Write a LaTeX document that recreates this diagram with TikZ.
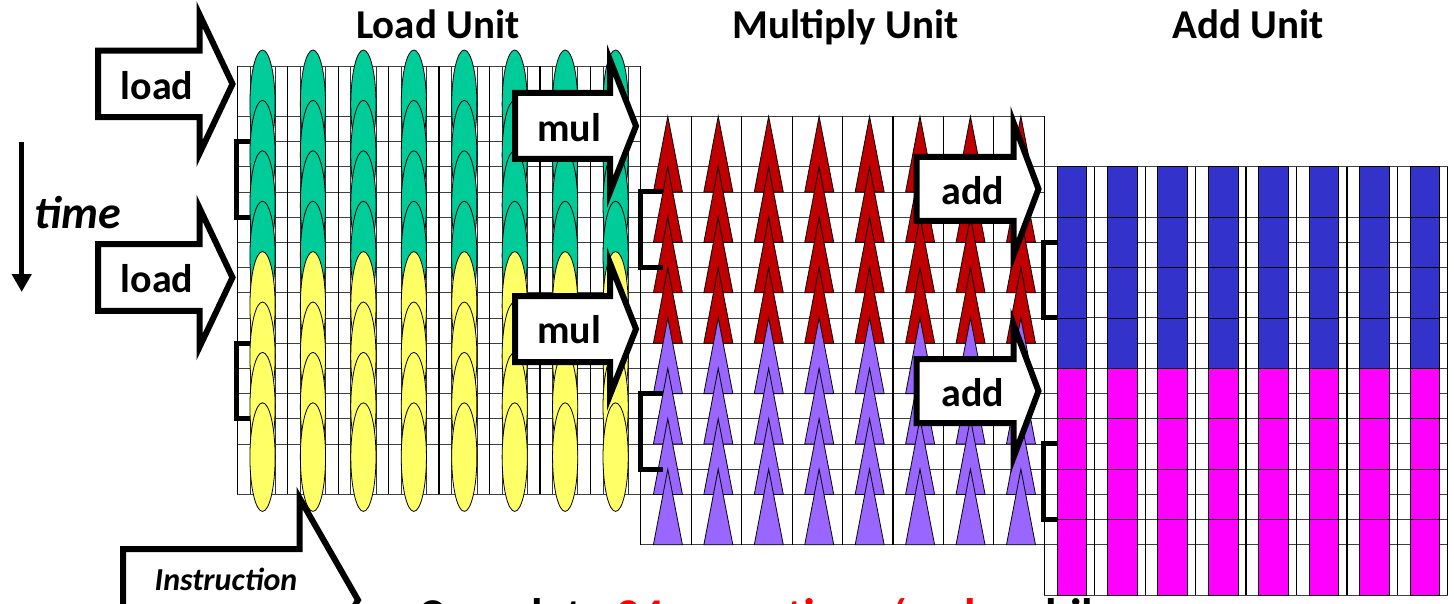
\documentclass[tikz,border=0pt]{standalone}
\usepackage{fontspec}
\setmainfont{Carlito}
\usetikzlibrary{calc}
\usetikzlibrary{arrows.meta}

\definecolor{loadgreen}{RGB}{0,204,153}
\definecolor{loadyellow}{RGB}{255,255,102}
\definecolor{mulred}{RGB}{192,0,0}
\definecolor{mulpurple}{RGB}{153,102,255}
\definecolor{addblue}{RGB}{51,51,204}
\definecolor{addmagenta}{RGB}{255,0,255}

\begin{document}
\begin{tikzpicture}[%
  >={Triangle[width=19pt,length=18pt]},
  x=1pt, y=-1pt,
  cell/.style={black!75, line width=0.9pt},
  subcell/.style={black!80, line width=0.7pt},
  lane/.style={black, line width=1.2pt},
  elem/.style={draw=black, line width=0.8pt},
  blockarrow/.style={draw=black, fill=white, line width=6pt},
  bracketline/.style={line width=5pt},
  oplabel/.style={font=\fontsize{40}{48}\selectfont\bfseries, anchor=base, inner sep=0pt},
  unittitle/.style={font=\fontsize{41}{48}\selectfont\bfseries, anchor=base, inner sep=0pt}
]

  \def\lanew{50.44}
  \def\rowh{25.2}

  \useasboundingbox (0,0) rectangle (1454,604);
  \clip (0,0) rectangle (1454,604);

  % load unit grid
  \foreach \c in {0,...,32}
    \draw[subcell] ({237.3+\c*\lanew/4},66) -- ++(0,{17*\rowh});

  \foreach \gx/\gy in {237.3/66, 640.8/116.4, 1044.3/166.7}{
    \foreach \r in {0,2,3,4,5,6,7,8,9,10,11,12,13,14,15,17}
      \draw[cell] (\gx,{\gy+\r*\rowh}) -- ++({8*\lanew},0);
    \foreach \c in {0,...,8}
      \draw[lane] ({\gx+\c*\lanew},\gy) -- ++(0,{17*\rowh});
  }

  \foreach \k in {0,...,7}{
    \ifnum\k<4 \def\elcol{loadgreen}\else\def\elcol{loadyellow}\fi
    \foreach \l in {0,...,7}
      \draw[elem, fill=\elcol] ({237.3+(\l+0.5)*\lanew},{104.3+2*\k*\rowh})
        ellipse [x radius=12.6pt, y radius=54.3pt];
  }

  % multiply unit
  \foreach \k in {0,...,7}{
    \ifnum\k<4 \def\tricol{mulred}\else\def\tricol{mulpurple}\fi
    \foreach \l in {0,...,7}
      \draw[elem, fill=\tricol] ({640.8+(\l+0.535)*\lanew},{116.4+2*\k*\rowh})
        -- ({640.8+(\l+0.825)*\lanew},{116.4+(2*\k+3)*\rowh})
        -- ({640.8+(\l+0.25)*\lanew},{116.4+(2*\k+3)*\rowh}) -- cycle;
  }

  % add unit
  \foreach \k in {0,...,7}{
    \ifnum\k<4 \def\barcol{addblue}\else\def\barcol{addmagenta}\fi
    \ifnum\k=7 \def\barh{3}\else\def\barh{2}\fi
    \foreach \l in {0,...,7}
      \draw[elem, fill=\barcol] ({1044.3+(\l+0.25)*\lanew},{166.7+2*\k*\rowh})
        rectangle ++({0.59*\lanew},{\barh*\rowh});
  }

  % instruction arrows
  \foreach \lx/\hx/\tx/\cy/\hb/\hh in {98/199.5/232.5/84/33.25/69.5,
      98/199.5/232.5/277.5/33.25/69.5,
      515/610/636/126/33/66, 515/610/636/329/33/66,
      916.5/1013.5/1038.5/189/32/66.5, 916.5/1013.5/1038.5/391/32/66.5,
      123/299.5/358/600/51/102}
    \draw[blockarrow] (\lx,{\cy-\hb}) -- (\hx,{\cy-\hb}) -- (\hx,{\cy-\hh})
      -- (\tx,\cy) -- (\hx,{\cy+\hh}) -- (\hx,{\cy+\hb}) -- (\lx,{\cy+\hb}) -- cycle;

  % brackets
  \foreach \bx/\ex/\gy in {236/250/66, 640/663/116.4, 1043.3/1057/166.7}{
    \draw[bracketline] (\ex,{\gy+3*\rowh}) -- (\bx,{\gy+3*\rowh})
      -- (\bx,{\gy+6*\rowh}) -- (\ex,{\gy+6*\rowh});
    \draw[bracketline] (\ex,{\gy+11*\rowh}) -- (\bx,{\gy+11*\rowh})
      -- (\bx,{\gy+14*\rowh}) -- (\ex,{\gy+14*\rowh});
  }

  \node[unittitle] (loadunit) at (437.7,38.3) {Load Unit};
  \node[unittitle] (mulunit) at (845.5,38.3) {Multiply Unit};
  \node[unittitle] (addunit) at (1248,38.3) {Add Unit};

  \node[oplabel] (loadA) at (157,100) {load};
  \node[oplabel] (loadB) at (157,292.7) {load};
  \node[oplabel] (mulA) at (569,142) {mul};
  \node[oplabel] (mulB) at (569,343.3) {mul};
  \node[oplabel] (addA) at (973,205) {add};
  \node[oplabel] (addB) at (973,406.7) {add};

  \coordinate (timestart) at (21.7,142);
  \coordinate (timeend) at (21.7,292);
  \draw[->, line width=4.5pt] (timestart) -- (timeend);
  \node[font=\fontsize{46}{52}\selectfont\bfseries\itshape, anchor=base, inner sep=0pt]
    (time) at (77.5,228.3) {time};

  \node[font=\fontsize{32}{38}\selectfont\bfseries\itshape, anchor=base, inner sep=0pt]
    (instr) at (226,590) {Instruction};
  \node[font=\fontsize{47}{56}\selectfont\bfseries, anchor=base west, inner sep=0pt]
    (summary) at (418,631) {Complete \textcolor{red}{24 operations/cycle} while};

\end{tikzpicture}
\end{document}
